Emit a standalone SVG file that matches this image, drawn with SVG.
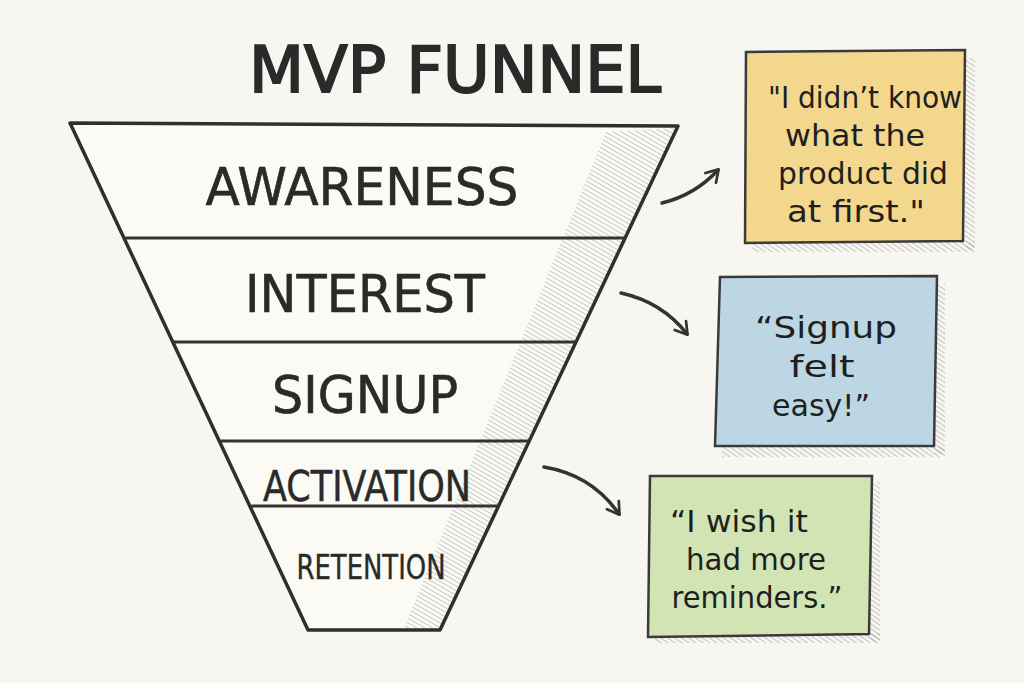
<svg xmlns="http://www.w3.org/2000/svg" width="1024" height="683" viewBox="0 0 1024 683">
  <defs>
    <pattern id="hatch" patternUnits="userSpaceOnUse" width="4" height="4" patternTransform="rotate(-60)">
      <line x1="0" y1="0" x2="0" y2="4" stroke="#8c8c8c" stroke-width="1"/>
    </pattern>
    <pattern id="hatch2" patternUnits="userSpaceOnUse" width="4" height="4" patternTransform="rotate(-55)">
      <line x1="0" y1="0" x2="0" y2="4" stroke="#7a7a7a" stroke-width="1"/>
    </pattern>
    <marker id="arrow" viewBox="0 0 20 20" refX="14" refY="10" markerWidth="18" markerHeight="18" markerUnits="userSpaceOnUse" orient="auto">
      <path d="M2,2 L15,10 L2,18" fill="none" stroke="#333" stroke-width="3" stroke-linecap="round" stroke-linejoin="round"/>
    </marker>
  </defs>
  <style>
    .ink { fill: none; stroke: #2f2f2f; stroke-width: 3.5; stroke-linecap: round; stroke-linejoin: round; }
    .div { fill: none; stroke: #333; stroke-width: 3; stroke-linecap: round; }
    .stage { font-family: "DejaVu Sans", "Noto Sans", sans-serif; fill: #2a2a2a; text-anchor: middle; }
    .note { font-family: "DejaVu Sans", "Noto Sans", sans-serif; fill: #1f1f1f; text-anchor: middle; font-size: 30px; }
    .box { stroke: #3a3a3a; stroke-width: 2.5; }
    .conn { fill: none; stroke: #333; stroke-width: 3.5; stroke-linecap: round; }
  </style>
  <rect width="1024" height="683" fill="#f8f6f0"/>

  <g id="title">
    <text x="455" y="92" class="stage" font-size="64" stroke="#2a2a2a" stroke-width="2" textLength="412" lengthAdjust="spacingAndGlyphs">MVP FUNNEL</text>
  </g>

  <g id="funnel">
    <polygon points="70,123 678,126 440,630 308,630" fill="#fbfaf5"/>
    <polygon points="606,132 676,128 440,628 404,628" fill="url(#hatch)" opacity="0.9"/>
    <polygon points="70,123 678,126 440,630 308,630" class="ink"/>
    <line x1="126" y1="238" x2="624" y2="238" class="div"/>
    <line x1="174" y1="342" x2="575" y2="342" class="div"/>
    <line x1="221" y1="441" x2="528" y2="441" class="div"/>
    <line x1="252" y1="506" x2="498" y2="506" class="div"/>
  </g>
  <g id="awareness"><text x="362" y="205" class="stage" font-size="52" stroke="#2a2a2a" stroke-width="0.6" textLength="313" lengthAdjust="spacingAndGlyphs">AWARENESS</text></g>
  <g id="interest"><text x="365" y="312" class="stage" font-size="52" stroke="#2a2a2a" stroke-width="0.6" textLength="240" lengthAdjust="spacingAndGlyphs">INTEREST</text></g>
  <g id="signup"><text x="365" y="413" class="stage" font-size="52" stroke="#2a2a2a" stroke-width="0.6" textLength="186" lengthAdjust="spacingAndGlyphs">SIGNUP</text></g>
  <g id="activation"><text x="367" y="501" class="stage" font-size="42" stroke="#2a2a2a" stroke-width="0.5" textLength="208" lengthAdjust="spacingAndGlyphs">ACTIVATION</text></g>
  <g id="retention"><text x="371" y="579" class="stage" font-size="33" stroke="#2a2a2a" stroke-width="0.4" textLength="149" lengthAdjust="spacingAndGlyphs">RETENTION</text></g>

  <g id="note-yellow">
    <rect x="965" y="58" width="10" height="192" fill="url(#hatch2)" opacity="0.8"/>
    <rect x="752" y="242" width="223" height="10" fill="url(#hatch2)" opacity="0.8"/>
    <polygon points="746,52 965,50 963,241 745,243" fill="#f3d78d" class="box"/>
    <text x="865" y="108" class="note" textLength="194" lengthAdjust="spacingAndGlyphs">"I didn’t know</text>
    <text x="855" y="146" class="note" textLength="140" lengthAdjust="spacingAndGlyphs">what the</text>
    <text x="863" y="184" class="note" textLength="170" lengthAdjust="spacingAndGlyphs">product did</text>
    <text x="856" y="222" class="note" textLength="138" lengthAdjust="spacingAndGlyphs">at first."</text>
  </g>

  <g id="note-blue">
    <rect x="935" y="284" width="10" height="170" fill="url(#hatch2)" opacity="0.8"/>
    <rect x="722" y="447" width="223" height="10" fill="url(#hatch2)" opacity="0.8"/>
    <polygon points="720,277 937,276 934,446 715,446" fill="#bcd7e3" class="box"/>
    <text x="826" y="338" class="note" textLength="142" lengthAdjust="spacingAndGlyphs">“Signup</text>
    <text x="822" y="377" class="note" textLength="65" lengthAdjust="spacingAndGlyphs">felt</text>
    <text x="821" y="416" class="note" textLength="98" lengthAdjust="spacingAndGlyphs">easy!”</text>
  </g>

  <g id="note-green">
    <rect x="870" y="482" width="10" height="160" fill="url(#hatch2)" opacity="0.8"/>
    <rect x="655" y="633" width="225" height="10" fill="url(#hatch2)" opacity="0.8"/>
    <polygon points="650,476 872,476 869,634 648,637" fill="#d2e3b4" class="box"/>
    <text x="739" y="532" class="note" textLength="138" lengthAdjust="spacingAndGlyphs">“I wish it</text>
    <text x="756" y="570" class="note" textLength="140" lengthAdjust="spacingAndGlyphs">had more</text>
    <text x="757" y="608" class="note" textLength="171" lengthAdjust="spacingAndGlyphs">reminders.”</text>
  </g>

  <g id="connectors">
    <path d="M662,203 Q695,195 718,170" class="conn" marker-end="url(#arrow)"/>
    <path d="M621,293 Q662,302 687,334" class="conn" marker-end="url(#arrow)"/>
    <path d="M544,467 Q592,475 619,514" class="conn" marker-end="url(#arrow)"/>
  </g>
</svg>
